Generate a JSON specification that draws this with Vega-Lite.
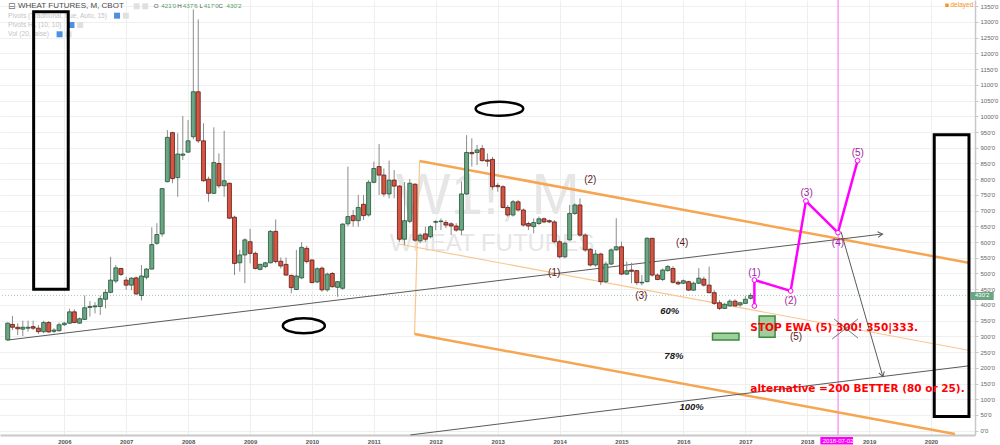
{
"$schema": "https://vega.github.io/schema/vega-lite/v6.json",
"width": 975, "height": 435,
"autosize": {"type": "none"},
"padding": {"left": 0, "top": 0, "right": 25, "bottom": 10},
"background": "white",
"config": {"view": {"stroke": null}, "font": "Liberation Sans", "text": {"font": "Liberation Sans"}, "axisY": {"labelOverlap": false, "labelSeparation": 0}, "axisX": {"labelOverlap": false}},
"datasets": {
"candles": [
{"d":"2005-02-01","o":289,"h":344,"l":285,"c":342},
{"d":"2005-03-01","o":338,"h":365,"l":320,"c":329},
{"d":"2005-04-01","o":329,"h":342,"l":304,"c":324},
{"d":"2005-05-01","o":323,"h":350,"l":301,"c":329},
{"d":"2005-06-01","o":326,"h":350,"l":315,"c":329},
{"d":"2005-07-01","o":331,"h":350,"l":320,"c":326},
{"d":"2005-08-01","o":326,"h":336,"l":308,"c":315},
{"d":"2005-09-01","o":315,"h":350,"l":310,"c":344},
{"d":"2005-10-01","o":344,"h":349,"l":312,"c":314},
{"d":"2005-11-01","o":316,"h":326,"l":310,"c":320},
{"d":"2005-12-01","o":318,"h":344,"l":315,"c":337},
{"d":"2006-01-01","o":337,"h":346,"l":333,"c":342},
{"d":"2006-02-01","o":342,"h":388,"l":339,"c":378},
{"d":"2006-03-01","o":378,"h":386,"l":342,"c":344},
{"d":"2006-04-01","o":342,"h":360,"l":340,"c":356},
{"d":"2006-05-01","o":354,"h":430,"l":352,"c":391},
{"d":"2006-06-01","o":392,"h":412,"l":363,"c":395},
{"d":"2006-07-01","o":394,"h":409,"l":373,"c":397},
{"d":"2006-08-01","o":395,"h":430,"l":368,"c":420},
{"d":"2006-09-01","o":418,"h":450,"l":389,"c":440},
{"d":"2006-10-01","o":440,"h":553,"l":437,"c":479},
{"d":"2006-11-01","o":476,"h":527,"l":469,"c":518},
{"d":"2006-12-01","o":516,"h":518,"l":492,"c":497},
{"d":"2007-01-01","o":479,"h":490,"l":448,"c":463},
{"d":"2007-02-01","o":463,"h":489,"l":447,"c":485},
{"d":"2007-03-01","o":486,"h":490,"l":432,"c":435},
{"d":"2007-04-01","o":430,"h":527,"l":414,"c":492},
{"d":"2007-05-01","o":488,"h":517,"l":481,"c":514},
{"d":"2007-06-01","o":514,"h":647,"l":513,"c":592},
{"d":"2007-07-01","o":596,"h":660,"l":591,"c":624},
{"d":"2007-08-01","o":626,"h":772,"l":617,"c":770},
{"d":"2007-09-01","o":792,"h":956,"l":790,"c":933},
{"d":"2007-10-01","o":948,"h":951,"l":787,"c":802},
{"d":"2007-11-01","o":805,"h":946,"l":744,"c":880},
{"d":"2007-12-01","o":876,"h":1001,"l":861,"c":880},
{"d":"2008-01-01","o":886,"h":988,"l":884,"c":922},
{"d":"2008-02-01","o":935,"h":1340,"l":927,"c":1078},
{"d":"2008-03-01","o":1078,"h":1308,"l":915,"c":922},
{"d":"2008-04-01","o":922,"h":978,"l":792,"c":795},
{"d":"2008-05-01","o":800,"h":808,"l":728,"c":755},
{"d":"2008-06-01","o":755,"h":965,"l":753,"c":853},
{"d":"2008-07-01","o":850,"h":882,"l":771,"c":779},
{"d":"2008-08-01","o":779,"h":954,"l":744,"c":795},
{"d":"2008-09-01","o":787,"h":789,"l":673,"c":676},
{"d":"2008-10-01","o":679,"h":684,"l":495,"c":532},
{"d":"2008-11-01","o":534,"h":575,"l":506,"c":559},
{"d":"2008-12-01","o":559,"h":612,"l":469,"c":607},
{"d":"2009-01-01","o":601,"h":642,"l":532,"c":564},
{"d":"2009-02-01","o":564,"h":570,"l":513,"c":516},
{"d":"2009-03-01","o":513,"h":531,"l":510,"c":529},
{"d":"2009-04-01","o":522,"h":537,"l":517,"c":534},
{"d":"2009-05-01","o":534,"h":638,"l":532,"c":634},
{"d":"2009-06-01","o":634,"h":672,"l":532,"c":538},
{"d":"2009-07-01","o":539,"h":551,"l":516,"c":524},
{"d":"2009-08-01","o":529,"h":551,"l":493,"c":495},
{"d":"2009-09-01","o":494,"h":496,"l":437,"c":455},
{"d":"2009-10-01","o":449,"h":575,"l":447,"c":492},
{"d":"2009-11-01","o":486,"h":600,"l":482,"c":583},
{"d":"2009-12-01","o":580,"h":588,"l":532,"c":538},
{"d":"2010-01-01","o":543,"h":545,"l":469,"c":471},
{"d":"2010-02-01","o":473,"h":520,"l":469,"c":515},
{"d":"2010-03-01","o":517,"h":522,"l":442,"c":448},
{"d":"2010-04-01","o":448,"h":503,"l":442,"c":498},
{"d":"2010-05-01","o":500,"h":505,"l":455,"c":458},
{"d":"2010-06-01","o":456,"h":476,"l":426,"c":474},
{"d":"2010-07-01","o":453,"h":660,"l":448,"c":657},
{"d":"2010-08-01","o":658,"h":840,"l":650,"c":681},
{"d":"2010-09-01","o":684,"h":702,"l":649,"c":668},
{"d":"2010-10-01","o":668,"h":750,"l":649,"c":710},
{"d":"2010-11-01","o":720,"h":750,"l":670,"c":684},
{"d":"2010-12-01","o":686,"h":797,"l":681,"c":790},
{"d":"2011-01-01","o":790,"h":856,"l":787,"c":834},
{"d":"2011-02-01","o":840,"h":912,"l":750,"c":813},
{"d":"2011-03-01","o":813,"h":834,"l":744,"c":753},
{"d":"2011-04-01","o":753,"h":859,"l":739,"c":797},
{"d":"2011-05-01","o":797,"h":829,"l":739,"c":778},
{"d":"2011-06-01","o":778,"h":781,"l":601,"c":609},
{"d":"2011-07-01","o":609,"h":791,"l":591,"c":668},
{"d":"2011-08-01","o":666,"h":800,"l":660,"c":787},
{"d":"2011-09-01","o":784,"h":787,"l":601,"c":606},
{"d":"2011-10-01","o":604,"h":628,"l":596,"c":622},
{"d":"2011-11-01","o":626,"h":649,"l":601,"c":609},
{"d":"2011-12-01","o":617,"h":654,"l":612,"c":649},
{"d":"2012-01-01","o":663,"h":670,"l":638,"c":665},
{"d":"2012-02-01","o":665,"h":675,"l":638,"c":667},
{"d":"2012-03-01","o":662,"h":670,"l":644,"c":654},
{"d":"2012-04-01","o":658,"h":663,"l":622,"c":651},
{"d":"2012-05-01","o":651,"h":660,"l":633,"c":638},
{"d":"2012-06-01","o":638,"h":792,"l":622,"c":753},
{"d":"2012-07-01","o":753,"h":940,"l":750,"c":885},
{"d":"2012-08-01","o":885,"h":930,"l":840,"c":881},
{"d":"2012-09-01","o":885,"h":909,"l":845,"c":893},
{"d":"2012-10-01","o":897,"h":909,"l":856,"c":859},
{"d":"2012-11-01","o":861,"h":882,"l":840,"c":857},
{"d":"2012-12-01","o":863,"h":871,"l":766,"c":776},
{"d":"2013-01-01","o":780,"h":787,"l":760,"c":776},
{"d":"2013-02-01","o":776,"h":781,"l":707,"c":710},
{"d":"2013-03-01","o":710,"h":718,"l":681,"c":686},
{"d":"2013-04-01","o":686,"h":734,"l":681,"c":728},
{"d":"2013-05-01","o":728,"h":734,"l":697,"c":702},
{"d":"2013-06-01","o":702,"h":707,"l":649,"c":654},
{"d":"2013-07-01","o":659,"h":665,"l":638,"c":651},
{"d":"2013-08-01","o":649,"h":675,"l":628,"c":662},
{"d":"2013-09-01","o":659,"h":681,"l":654,"c":674},
{"d":"2013-10-01","o":674,"h":678,"l":660,"c":664},
{"d":"2013-11-01","o":668,"h":672,"l":660,"c":664},
{"d":"2013-12-01","o":664,"h":670,"l":596,"c":601},
{"d":"2014-01-01","o":601,"h":606,"l":548,"c":553},
{"d":"2014-02-01","o":553,"h":601,"l":548,"c":596},
{"d":"2014-03-01","o":607,"h":718,"l":604,"c":691},
{"d":"2014-04-01","o":691,"h":723,"l":686,"c":718},
{"d":"2014-05-01","o":718,"h":739,"l":617,"c":622},
{"d":"2014-06-01","o":622,"h":628,"l":569,"c":575},
{"d":"2014-07-01","o":577,"h":580,"l":522,"c":527},
{"d":"2014-08-01","o":527,"h":575,"l":522,"c":562},
{"d":"2014-09-01","o":562,"h":566,"l":463,"c":474},
{"d":"2014-10-01","o":474,"h":538,"l":469,"c":530},
{"d":"2014-11-01","o":530,"h":580,"l":527,"c":575},
{"d":"2014-12-01","o":575,"h":676,"l":572,"c":585},
{"d":"2015-01-01","o":585,"h":601,"l":495,"c":498},
{"d":"2015-02-01","o":498,"h":538,"l":495,"c":509},
{"d":"2015-03-01","o":511,"h":534,"l":469,"c":507},
{"d":"2015-04-01","o":509,"h":511,"l":463,"c":471},
{"d":"2015-05-01","o":470,"h":495,"l":462,"c":472},
{"d":"2015-06-01","o":474,"h":615,"l":472,"c":612},
{"d":"2015-07-01","o":612,"h":612,"l":490,"c":495},
{"d":"2015-08-01","o":495,"h":500,"l":479,"c":481},
{"d":"2015-09-01","o":481,"h":516,"l":476,"c":511},
{"d":"2015-10-01","o":509,"h":527,"l":506,"c":522},
{"d":"2015-11-01","o":516,"h":523,"l":468,"c":472},
{"d":"2015-12-01","o":472,"h":478,"l":463,"c":467},
{"d":"2016-01-01","o":469,"h":481,"l":466,"c":477},
{"d":"2016-02-01","o":474,"h":477,"l":445,"c":447},
{"d":"2016-03-01","o":447,"h":474,"l":445,"c":469},
{"d":"2016-04-01","o":469,"h":517,"l":466,"c":485},
{"d":"2016-05-01","o":482,"h":490,"l":458,"c":463},
{"d":"2016-06-01","o":463,"h":522,"l":437,"c":439},
{"d":"2016-07-01","o":439,"h":447,"l":400,"c":405},
{"d":"2016-08-01","o":407,"h":415,"l":384,"c":389},
{"d":"2016-09-01","o":389,"h":407,"l":387,"c":402},
{"d":"2016-10-01","o":397,"h":418,"l":395,"c":412},
{"d":"2016-11-01","o":412,"h":418,"l":395,"c":397},
{"d":"2016-12-01","o":400,"h":410,"l":394,"c":407},
{"d":"2017-01-01","o":405,"h":429,"l":404,"c":418},
{"d":"2017-02-01","o":421,"h":437.75,"l":417,"c":430.25}
],
"orangeThick": [
{"s":"upper","d":"2011-09-28","p":857.8},{"s":"upper","d":"2020-08-17","p":533.4},
{"s":"lower","d":"2011-08-29","p":307.6},{"s":"lower","d":"2020-05-21","p":-10.5}
],
"orangeThin": [
{"s":"mid","d":"2011-05-28","p":593.8},{"s":"mid","d":"2020-08-17","p":255.1},
{"s":"vert","d":"2011-09-28","p":857.8},{"s":"vert","d":"2011-08-29","p":307.6}
],
"trend": [
{"s":"t1","d":"2005-02-03","p":288.5},{"s":"t1","d":"2019-03-21","p":625.6},
{"s":"t2","d":"2011-08-05","p":-13.5},{"s":"t2","d":"2020-08-17","p":206.7},
{"s":"t3","d":"2018-07-19","p":633.0},{"s":"t3","d":"2019-03-23","p":171.8}
],
"cross": [
{"s":"a","d":"2018-05-28","p":291.7},{"s":"a","d":"2018-10-27","p":355.3},
{"s":"b","d":"2018-06-08","p":355.3},{"s":"b","d":"2018-10-27","p":294.8}
],
"wave": [
{"k":0,"d":"2017-02-23","p":396.6},
{"k":1,"d":"2017-02-23","p":479.3},
{"k":2,"d":"2017-09-25","p":444.3},
{"k":3,"d":"2017-12-24","p":730.6},
{"k":4,"d":"2018-07-01","p":629.8},
{"k":5,"d":"2018-10-25","p":858.8}
],
"waveLabels": [
{"d":"2017-02-23","p":502.5,"t":"(1)"},
{"d":"2017-09-25","p":412.5,"t":"(2)"},
{"d":"2017-12-28","p":755,"t":"(3)"},
{"d":"2018-07-01","p":596,"t":"(4)"},
{"d":"2018-10-26","p":884.2,"t":"(5)"}
],
"brownLabels": [
{"d":"2014-07-01","p":797.4,"t":"(2)"},
{"d":"2015-12-25","p":596,"t":"(4)"},
{"d":"2013-11-30","p":502,"t":"(1)"},
{"d":"2015-04-28","p":428.4,"t":"(3)"},
{"d":"2017-10-27","p":299,"t":"(5)"}
],
"pctLabels": [
{"d":"2015-10-12","p":381.7,"t":"60%"},
{"d":"2015-11-06","p":237.6,"t":"78%"},
{"d":"2016-02-19","p":76.3,"t":"100%"}
],
"redText": [
{"d":"2017-01-30","p":325.7,"t":"STOP EWA (5) 300! 350|333."},
{"d":"2017-01-30","p":131.7,"t":"alternative =200 BETTER (80 or 25)."}
],
"boxes": [
{"d":"2005-07-04","d2":"2006-01-24","p":1332.7,"p2":449.7},
{"d":"2020-01-20","d2":"2020-08-12","p":941.5,"p2":45.2}
],
"greenBoxes": [
{"d":"2016-06-21","d2":"2016-11-24","p":309.8,"p2":288.5},
{"d":"2017-03-23","d2":"2017-06-25","p":364.8,"p2":297.1}
],
"ohlcKeys": [
{"d":"2007-06-13","p":1349.9,"t":"O"},
{"d":"2007-10-29","p":1349.9,"t":"H"},
{"d":"2008-03-08","p":1349.9,"t":"L"},
{"d":"2008-06-29","p":1349.9,"t":"C"}
],
"ohlcVals": [
{"d":"2007-07-27","p":1349.9,"t":"421'0"},
{"d":"2007-12-01","p":1349.9,"t":"437'6"},
{"d":"2008-04-02","p":1349.9,"t":"417'0"},
{"d":"2008-08-15","p":1349.9,"t":"430'2"}
],
"studies": [
{"d":"2005-02-03","p":1320,"t":"Pivots (Traditional, true, Auto, 15)"},
{"d":"2005-02-03","p":1290.4,"t":"Pivots HL (10, 10)"},
{"d":"2005-02-03","p":1260.8,"t":"Vol (20, false)"}
],
"blueIcons": [
{"d":"2006-11-08","p":1320},
{"d":"2006-02-12","p":1290.4},
{"d":"2005-12-04","p":1260.8}
],
"grayIcons": [
{"d":"2006-12-30","p":1320},
{"d":"2006-04-05","p":1290.4},
{"d":"2006-01-26","p":1260.8},
{"d":"2007-03-04","p":1349.9},
{"d":"2007-04-23","p":1349.9}
]
},
"layer": [
{
"data": {"values": [{"d":"2012-11-04","p":743,"t":"W1!, M"}]},
"mark": {"type":"text","fontSize":58,"color":"#e6e6e6","align":"center","baseline":"middle"},
"encoding": {
"x": {"field":"d","type":"temporal","scale":{"domain":[{"year":2005,"month":1,"date":16},{"year":2020,"month":8,"date":18}],"nice":false},
"axis":{"orient":"bottom","values":[{"year":2006},{"year":2007},{"year":2008},{"year":2009},{"year":2010},{"year":2011},{"year":2012},{"year":2013},{"year":2014},{"year":2015},{"year":2016},{"year":2017},{"year":2018},{"year":2019},{"year":2020}],"format":"%Y","title":null,"grid":true,"gridColor":"#efefef","domainColor":"#c8c8c8","domainWidth":2,"ticks":false,"labelFontSize":6,"labelFontWeight":"bold","labelColor":"#555555","labelPadding":3,"labelOverlap":false}},
"y": {"field":"p","type":"quantitative","scale":{"domain":[-13.7,1369.9],"nice":false,"zero":false},
"axis":{"orient":"right","values":[0,50,100,150,200,250,300,350,400,450,500,550,600,650,700,750,800,850,900,950,1000,1050,1100,1150,1200,1250,1300,1350],"tickCount":28,"labelExpr":"datum.value + \"'0\"","title":null,"grid":true,"gridColor":"#efefef","domainColor":"#c8c8c8","domainWidth":1.5,"tickColor":"#c8c8c8","tickSize":3,"labelFontSize":6,"labelColor":"#666666","labelPadding":2,"labelOverlap":false,"labelBound":false,"labelSeparation":0}},
"text": {"field":"t"}
}
},
{
"data": {"values": [{"d":"2012-11-28","p":594,"t":"WHEAT FUTURES"}]},
"mark": {"type":"text","fontSize":24,"color":"#e6e6e6","align":"center","baseline":"middle"},
"encoding": {"x":{"field":"d","type":"temporal"},"y":{"field":"p","type":"quantitative"},"text":{"field":"t"}}
},
{
"data": {"values": [{"p":430.25}]},
"mark": {"type":"rule","color":"#6ba583","strokeDash":[1,2],"strokeWidth":1,"opacity":0.6},
"encoding": {"y":{"field":"p","type":"quantitative"}}
},
{
"data": {"values": [{"d":"2018-07-02"}]},
"mark": {"type":"rule","color":"#f7a0f7","strokeWidth":1.5},
"encoding": {"x":{"field":"d","type":"temporal"}}
},
{
"data": {"name":"orangeThin"},
"mark": {"type":"line","color":"#f9c690","strokeWidth":1.2},
"encoding": {"x":{"field":"d","type":"temporal"},"y":{"field":"p","type":"quantitative"},"detail":{"field":"s"}}
},
{
"data": {"name":"orangeThick"},
"mark": {"type":"line","color":"#f6a550","strokeWidth":2.5},
"encoding": {"x":{"field":"d","type":"temporal"},"y":{"field":"p","type":"quantitative"},"detail":{"field":"s"}}
},
{
"data": {"name":"trend"},
"mark": {"type":"line","color":"#5a5a5a","strokeWidth":1},
"encoding": {"x":{"field":"d","type":"temporal"},"y":{"field":"p","type":"quantitative"},"detail":{"field":"s"}}
},
{
"data": {"values": [{"d":"2019-03-21","p":625.6}]},
"mark": {"type":"point","shape":"M-1,-0.6L0,0L-1,0.6","filled":false,"stroke":"#5a5a5a","strokeWidth":1,"size":90,"angle":-7,"opacity":1},
"encoding": {"x":{"field":"d","type":"temporal"},"y":{"field":"p","type":"quantitative"}}
},
{
"data": {"values": [{"d":"2019-03-23","p":171.8}]},
"mark": {"type":"point","shape":"M-1,-0.6L0,0L-1,0.6","filled":false,"stroke":"#5a5a5a","strokeWidth":1,"size":90,"angle":74,"opacity":1},
"encoding": {"x":{"field":"d","type":"temporal"},"y":{"field":"p","type":"quantitative"}}
},
{
"data": {"name":"candles"},
"mark": {"type":"rule","color":"#8c8c8c","strokeWidth":1},
"encoding": {"x":{"field":"d","type":"temporal"},"y":{"field":"l","type":"quantitative"},"y2":{"field":"h"}}
},
{
"data": {"name":"candles"},
"mark": {"type":"bar","size":4,"strokeWidth":0.8},
"encoding": {"x":{"field":"d","type":"temporal"},"y":{"field":"o","type":"quantitative"},"y2":{"field":"c"},
"fill":{"condition":{"test":"datum.c >= datum.o","value":"#6ba583"},"value":"#d75442"},
"stroke":{"condition":{"test":"datum.c >= datum.o","value":"#225437"},"value":"#5b1a13"}}
},
{
"data": {"name":"studies"},
"mark": {"type":"text","fontSize":6.7,"color":"#c4c4c4","align":"left","baseline":"middle"},
"encoding": {"x":{"field":"d","type":"temporal"},"y":{"field":"p","type":"quantitative"},"text":{"field":"t"}}
},
{
"data": {"name":"blueIcons"},
"mark": {"type":"point","shape":"square","filled":true,"color":"#4d8fe0","size":36,"opacity":1},
"encoding": {"x":{"field":"d","type":"temporal"},"y":{"field":"p","type":"quantitative"}}
},
{
"data": {"name":"grayIcons"},
"mark": {"type":"point","shape":"square","filled":true,"color":"#e0e0e0","size":36,"opacity":1},
"encoding": {"x":{"field":"d","type":"temporal"},"y":{"field":"p","type":"quantitative"}}
},
{
"data": {"values": [{"d":"2005-02-03","p":1349.9,"t":"⊟"}]},
"mark": {"type":"text","fontSize":9,"color":"#777777","align":"left","baseline":"middle","font":"DejaVu Sans"},
"encoding": {"x":{"field":"d","type":"temporal"},"y":{"field":"p","type":"quantitative"},"text":{"field":"t"}}
},
{
"data": {"values": [{"d":"2005-04-02","p":1349.9,"t":"WHEAT FUTURES, M, CBOT"}]},
"mark": {"type":"text","fontSize":8,"color":"#4a4a4a","align":"left","baseline":"middle"},
"encoding": {"x":{"field":"d","type":"temporal"},"y":{"field":"p","type":"quantitative"},"text":{"field":"t"}}
},
{
"data": {"name":"ohlcKeys"},
"mark": {"type":"text","fontSize":6.2,"color":"#555555","align":"left","baseline":"middle"},
"encoding": {"x":{"field":"d","type":"temporal"},"y":{"field":"p","type":"quantitative"},"text":{"field":"t"}}
},
{
"data": {"name":"ohlcVals"},
"mark": {"type":"text","fontSize":6.2,"color":"#53a06b","align":"left","baseline":"middle"},
"encoding": {"x":{"field":"d","type":"temporal"},"y":{"field":"p","type":"quantitative"},"text":{"field":"t"}}
},
{
"data": {"name":"boxes"},
"mark": {"type":"rect","fill":null,"fillOpacity":0,"stroke":"#000000","strokeWidth":3},
"encoding": {"x":{"field":"d","type":"temporal"},"x2":{"field":"d2"},"y":{"field":"p","type":"quantitative"},"y2":{"field":"p2"}}
},
{
"data": {"values": [{"d":"2013-01-11","p":1024.2}]},
"mark": {"type":"point","shape":"M-1,0C-1,-0.162,-0.552,-0.294,0,-0.294C0.552,-0.294,1,-0.162,1,0C1,0.162,0.552,0.294,0,0.294C-0.552,0.294,-1,0.162,-1,0Z","filled":false,"stroke":"#000000","strokeWidth":2.5,"size":2266,"opacity":1},
"encoding": {"x":{"field":"d","type":"temporal"},"y":{"field":"p","type":"quantitative"}}
},
{
"data": {"values": [{"d":"2009-11-14","p":333.7}]},
"mark": {"type":"point","shape":"M-1,0C-1,-0.197,-0.552,-0.357,0,-0.357C0.552,-0.357,1,-0.197,1,0C1,0.197,0.552,0.357,0,0.357C-0.552,0.357,-1,0.197,-1,0Z","filled":false,"stroke":"#000000","strokeWidth":2.5,"size":1764,"opacity":1},
"encoding": {"x":{"field":"d","type":"temporal"},"y":{"field":"p","type":"quantitative"}}
},
{
"data": {"name":"greenBoxes"},
"mark": {"type":"rect","fill":"#9fcf9f","stroke":"#3d8a3d","strokeWidth":1.5},
"encoding": {"x":{"field":"d","type":"temporal"},"x2":{"field":"d2"},"y":{"field":"p","type":"quantitative"},"y2":{"field":"p2"}}
},
{
"data": {"name":"pctLabels"},
"mark": {"type":"text","fontSize":9.5,"fontStyle":"italic","fontWeight":"bold","color":"#1a1a1a","align":"center","baseline":"middle"},
"encoding": {"x":{"field":"d","type":"temporal"},"y":{"field":"p","type":"quantitative"},"text":{"field":"t"}}
},
{
"data": {"name":"brownLabels"},
"mark": {"type":"text","fontSize":10,"color":"#5b1a1a","align":"center","baseline":"middle"},
"encoding": {"x":{"field":"d","type":"temporal"},"y":{"field":"p","type":"quantitative"},"text":{"field":"t"}}
},
{
"data": {"name":"redText"},
"mark": {"type":"text","fontSize":10.5,"font":"DejaVu Sans","fontWeight":"bold","color":"#ff0000","align":"left","baseline":"middle"},
"encoding": {"x":{"field":"d","type":"temporal"},"y":{"field":"p","type":"quantitative"},"text":{"field":"t"}}
},
{
"data": {"name":"cross"},
"mark": {"type":"line","color":"#555555","strokeWidth":0.8},
"encoding": {"x":{"field":"d","type":"temporal"},"y":{"field":"p","type":"quantitative"},"detail":{"field":"s"}}
},
{
"data": {"name":"wave"},
"mark": {"type":"line","color":"#ff00ff","strokeWidth":2.5},
"encoding": {"x":{"field":"d","type":"temporal"},"y":{"field":"p","type":"quantitative"},"order":{"field":"k"}}
},
{
"data": {"name":"wave"},
"mark": {"type":"point","shape":"circle","filled":true,"fill":"#ffffff","stroke":"#ff00ff","strokeWidth":1,"size":22,"opacity":1},
"encoding": {"x":{"field":"d","type":"temporal"},"y":{"field":"p","type":"quantitative"}}
},
{
"data": {"name":"waveLabels"},
"mark": {"type":"text","fontSize":10,"color":"#a01fa0","align":"center","baseline":"middle"},
"encoding": {"x":{"field":"d","type":"temporal"},"y":{"field":"p","type":"quantitative"},"text":{"field":"t"}}
},
{
"data": {"values": [{"d":"2020-04-04","p":1353}]},
"mark": {"type":"point","shape":"square","filled":true,"color":"#f7931e","size":12,"opacity":1},
"encoding": {"x":{"field":"d","type":"temporal"},"y":{"field":"p","type":"quantitative"}}
},
{
"data": {"values": [{"d":"2020-04-25","p":1353,"t":"delayed"}]},
"mark": {"type":"text","fontSize":6.5,"color":"#f7931e","align":"left","baseline":"middle"},
"encoding": {"x":{"field":"d","type":"temporal"},"y":{"field":"p","type":"quantitative"},"text":{"field":"t"}}
},
{
"data": {"values": [{"d":"2020-08-23","d2":"2021-01-05","p":441.2,"p2":415.7}]},
"mark": {"type":"rect","fill":"#6ba583"},
"encoding": {"x":{"field":"d","type":"temporal"},"x2":{"field":"d2"},"y":{"field":"p","type":"quantitative"},"y2":{"field":"p2"}}
},
{
"data": {"values": [{"d":"2020-10-29","p":430.25,"t":"430'2"}]},
"mark": {"type":"text","fontSize":6,"color":"#ffffff","align":"center","baseline":"middle"},
"encoding": {"x":{"field":"d","type":"temporal"},"y":{"field":"p","type":"quantitative"},"text":{"field":"t"}}
},
{
"data": {"values": [{"d":"2018-03-19","d2":"2018-09-28","p":-20,"p2":-43.9}]},
"mark": {"type":"rect","fill":"#ff00ff"},
"encoding": {"x":{"field":"d","type":"temporal"},"x2":{"field":"d2"},"y":{"field":"p","type":"quantitative"},"y2":{"field":"p2"}}
},
{
"data": {"values": [{"d":"2018-07-02","p":-32,"t":"2018-07-02"}]},
"mark": {"type":"text","fontSize":6,"color":"#ffffff","align":"center","baseline":"middle"},
"encoding": {"x":{"field":"d","type":"temporal"},"y":{"field":"p","type":"quantitative"},"text":{"field":"t"}}
}
]
}
